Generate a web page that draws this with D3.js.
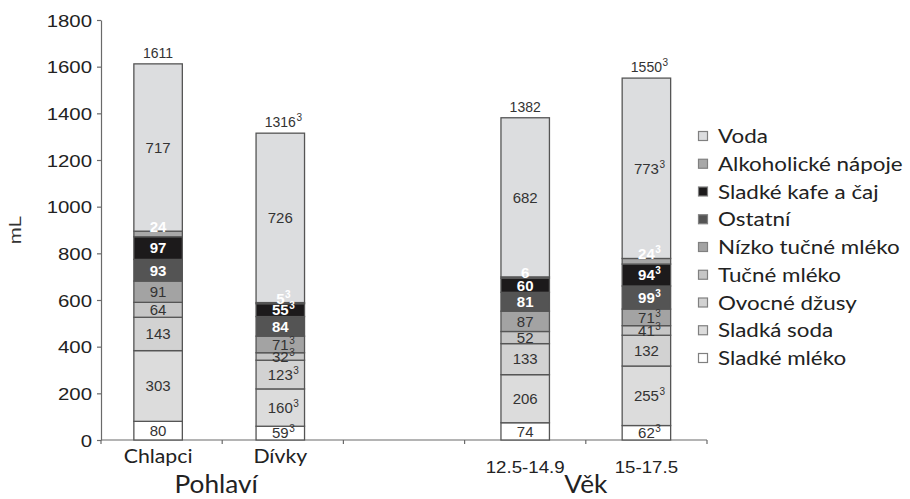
<!DOCTYPE html>
<html><head><meta charset="utf-8">
<script src="https://cdn.jsdelivr.net/npm/d3@7"></script>
<style>body{margin:0;background:#fff} svg{display:block}</style>
</head><body><svg id="c" width="910" height="499"></svg>
<script>
// ---------- data ----------
const categories = ["Chlapci", "Dívky", "12.5-14.9", "15-17.5"];
const slots = ["Chlapci", "Dívky", "gap", "12.5-14.9", "15-17.5"];
const groupLabels = ["Pohlaví", "Věk"];
const groupMembers = [["Chlapci", "Dívky"], ["12.5-14.9", "15-17.5"]];
// stacked bottom -> top
const series = ["Sladké mléko", "Sladká soda", "Ovocné džusy", "Tučné mléko", "Nízko tučné mléko", "Ostatní", "Sladké kafe a čaj", "Alkoholické nápoje", "Voda"];
const sladkeMleko = [80, 59, 74, 62];
const sladkaSoda = [303, 160, 206, 255];
const ovocneDzusy = [143, 123, 133, 132];
const tucneMleko = [64, 32, 52, 41];
const nizkoTucneMleko = [91, 71, 87, 71];
const ostatni = [93, 84, 81, 99];
const sladkeKafeCaj = [97, 55, 60, 94];
const alkoholickeNapoje = [24, 5, 6, 24];
const voda = [717, 726, 682, 773];
const totals = [1611, 1316, 1382, 1550];
// superscript "3" markers (1 = marked)
const supSladkeMleko = [0, 1, 0, 1];
const supSladkaSoda = [0, 1, 0, 1];
const supOvocneDzusy = [0, 1, 0, 0];
const supTucneMleko = [0, 1, 0, 1];
const supNizkoTucneMleko = [0, 1, 0, 1];
const supOstatni = [0, 0, 0, 1];
const supSladkeKafeCaj = [0, 1, 0, 1];
const supAlkoholickeNapoje = [0, 1, 0, 1];
const supVoda = [0, 0, 0, 1];
const supTotals = [0, 1, 0, 1];
const yTicks = [0, 200, 400, 600, 800, 1000, 1200, 1400, 1600, 1800];
const yTitle = "mL";

const valueArrays = [sladkeMleko, sladkaSoda, ovocneDzusy, tucneMleko, nizkoTucneMleko, ostatni, sladkeKafeCaj, alkoholickeNapoje, voda];
const supArrays = [supSladkeMleko, supSladkaSoda, supOvocneDzusy, supTucneMleko, supNizkoTucneMleko, supOstatni, supSladkeKafeCaj, supAlkoholickeNapoje, supVoda];

// ---------- styles ----------
const colors = {
  "Sladké mléko": "#ffffff",
  "Sladká soda": "#dcdcdc",
  "Ovocné džusy": "#d2d2d2",
  "Tučné mléko": "#c6c6c6",
  "Nízko tučné mléko": "#a3a3a3",
  "Ostatní": "#545454",
  "Sladké kafe a čaj": "#1c1a1b",
  "Alkoholické nápoje": "#a8a8a8",
  "Voda": "#dcdddf"
};
const whiteText = new Set(["Ostatní", "Sladké kafe a čaj", "Alkoholické nápoje"]);
const NUM_FONT = "'Liberation Sans', Arial, sans-serif";
const CAL_FONT = "Lato, 'Open Sans', sans-serif";
const groupShift = { "Chlapci": -3.5, "Dívky": -2.5, "12.5-14.9": 0, "15-17.5": 0 };

const rows = categories.map((c, i) => {
  const r = { cat: c };
  series.forEach((s, k) => r[s] = valueArrays[k][i]);
  return r;
});

const svg = d3.select("#c");
svg.append("rect").attr("width", 910).attr("height", 499).attr("fill", "#fff");

const y = d3.scaleLinear().domain([0, 1800]).range([440, 20]);
const x = d3.scaleBand().domain(slots).range([101, 707]).paddingInner(0.6).paddingOuter(0.3);
const bx = c => x(c) + groupShift[c];
const cx = c => bx(c) + x.bandwidth() / 2;

// y axis
const yAxis = svg.append("g").attr("transform", "translate(101,0)")
  .call(d3.axisLeft(y).tickValues(yTicks).tickFormat(d3.format("d")).tickSize(4).tickSizeOuter(0));
yAxis.select(".domain").attr("stroke", "#6a6a6a").attr("stroke-width", 1.2);
yAxis.selectAll(".tick line").attr("stroke", "#6a6a6a").attr("stroke-width", 1.2);
yAxis.selectAll(".tick text")
  .attr("x", 0).attr("dy", "0.36em")
  .attr("transform", "translate(-9,0) scale(1.2,1)")
  .attr("font-family", NUM_FONT).attr("font-size", 17).attr("fill", "#222");

svg.append("text").text(yTitle)
  .attr("transform", "translate(21,230) rotate(-90) scale(1.2,1)")
  .attr("text-anchor", "middle")
  .attr("font-family", NUM_FONT).attr("font-size", 17).attr("fill", "#333");

// x axis
const half = (x.step() - x.bandwidth()) / 2;
const edges = slots.map(s => x(s) - half).concat([x(slots[slots.length - 1]) + x.bandwidth() + half]);
svg.append("line").attr("x1", edges[0]).attr("x2", edges[edges.length - 1])
  .attr("y1", 440).attr("y2", 440).attr("stroke", "#6a6a6a").attr("stroke-width", 1.2);
svg.selectAll(".xt").data(edges).join("line")
  .attr("x1", d => d).attr("x2", d => d).attr("y1", 440).attr("y2", 444)
  .attr("stroke", "#6a6a6a").attr("stroke-width", 1.2);

// stacks
const stack = d3.stack().keys(series)(rows);

const layers = svg.append("g").selectAll("g").data(stack).join("g")
  .attr("fill", d => colors[d.key]);
layers.selectAll("rect").data(d => d).join("rect")
  .attr("x", d => bx(d.data.cat))
  .attr("width", x.bandwidth())
  .attr("y", d => y(d[1]))
  .attr("height", d => y(d[0]) - y(d[1]))
  .attr("stroke", "#555").attr("stroke-width", 1.3);

// segment labels
function numLabel(g, xc, yy, txt, sup, color, bold, size) {
  const t = g.append("text").attr("x", xc).attr("y", yy)
    .attr("text-anchor", "middle").attr("font-family", NUM_FONT)
    .attr("font-size", size).attr("fill", color)
    .attr("font-weight", bold ? "bold" : "normal").text(txt);
  if (sup) {
    const w = t.node().getComputedTextLength();
    g.append("text").attr("x", xc + w / 2 + 0.5).attr("y", yy - 6)
      .attr("font-family", NUM_FONT).attr("font-size", 10).attr("fill", color)
      .attr("font-weight", bold ? "bold" : "normal").text("3");
  }
}
const lg = svg.append("g");
stack.forEach((layer, k) => {
  const key = layer.key;
  layer.forEach((d, i) => {
    const xc = cx(d.data.cat);
    const isAlk = key === "Alkoholické nápoje";
    const yy = isAlk ? y(d[1]) + 1 : (y(d[0]) + y(d[1])) / 2 + 5.3;
    numLabel(lg, xc, yy, String(d.data[key]), supArrays[k][i] === 1,
      whiteText.has(key) ? "#fff" : "#333", whiteText.has(key), 15);
  });
});
// totals
categories.forEach((c, i) => {
  numLabel(lg, cx(c), y(totals[i]) - 6, String(totals[i]), supTotals[i] === 1, "#333", false, 14);
});

// category labels
const catFont = { "Chlapci": CAL_FONT, "Dívky": CAL_FONT, "12.5-14.9": NUM_FONT, "15-17.5": NUM_FONT };
categories.forEach((c, i) => {
  const cal = catFont[c] === CAL_FONT;
  svg.append("text").text(c)
    .attr("transform", `translate(${cx(c)},${cal ? 463 : 473}) scale(${cal ? 1.12 : 1.1},1)`)
    .attr("text-anchor", "middle").attr("font-family", catFont[c])
    .attr("font-size", cal ? 19 : 17).attr("fill", "#222");
});
groupLabels.forEach((g, i) => {
  const m = groupMembers[i];
  const mid = (cx(m[0]) + cx(m[1])) / 2 + (i === 0 ? -3 : 0);
  svg.append("text").text(g)
    .attr("transform", `translate(${mid},493) scale(1.05,1)`)
    .attr("text-anchor", "middle").attr("font-family", CAL_FONT)
    .attr("font-size", 25).attr("fill", "#222");
});

// legend (top: Voda)
const legendItems = series.slice().reverse();
const ly = d3.scalePoint().domain(legendItems).range([136, 358]);
const leg = svg.append("g");
legendItems.forEach(s => {
  const yy = ly(s);
  leg.append("rect").attr("x", 698.5).attr("y", yy - 4.5).attr("width", 9).attr("height", 9)
    .attr("fill", colors[s]).attr("stroke", "#808080").attr("stroke-width", 1.2);
  leg.append("text").text(s)
    .attr("transform", `translate(718,${yy + 7}) scale(1.12,1)`)
    .attr("font-family", CAL_FONT).attr("font-size", 20).attr("fill", "#222");
});
</script></body></html>
